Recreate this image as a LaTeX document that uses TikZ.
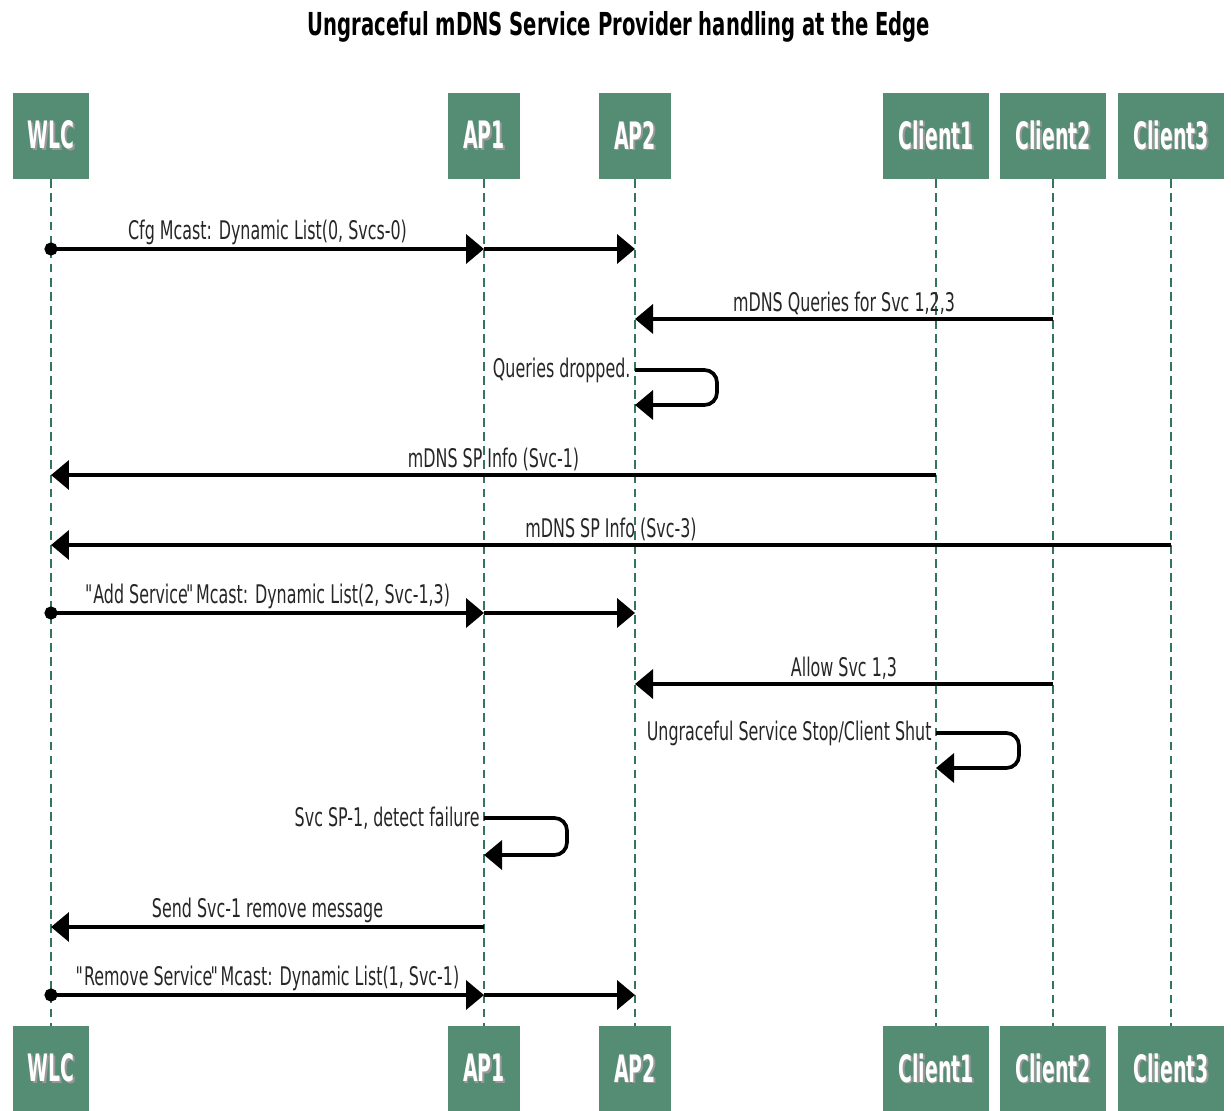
\documentclass[tikz,border=0pt]{standalone}
\usepackage{fontspec}
\setmainfont{DejaVu Sans}[FakeStretch=0.62]
\newfontfamily\actorfont{DejaVu Sans}[FakeStretch=0.5]
\usetikzlibrary{arrows.meta,positioning}

\definecolor{boxgreen}{RGB}{84,140,116}
\definecolor{lifegreen}{RGB}{50,118,98}

% white participant name with a small dark shadow
\newcommand{\shadowed}[1]{\makebox[0pt][l]{\hspace{1pt}\raisebox{-1pt}{\color{black!40}#1}}#1}
% straight quotes, set tight
\newcommand{\qq}[1]{\textquotedbl\kern-2pt#1\kern-1pt\textquotedbl\kern-1pt}

\tikzset{
  actor/.style={rectangle, fill=boxgreen, text=white,
    font=\actorfont\bfseries\fontsize{21.5}{24}\selectfont,
    minimum height=1.72cm, inner xsep=0.3cm},
  lifeline/.style={lifegreen, line width=1.1pt, dash pattern=on 5pt off 3pt},
  msg/.style={line width=2.1pt, -{Triangle[length=0.36cm,width=0.58cm]}},
  msgdot/.style={msg, {Circle[length=0.26cm,sep=-0.13cm]}-{Triangle[length=0.36cm,width=0.58cm]}},
  selfmsg/.style={msg, rounded corners=0.25cm},
  lbl/.style={font=\fontsize{14.6}{16}\selectfont, text=black!85, inner sep=1.5pt},
}

\begin{document}
\begin{tikzpicture}[x=0.02cm, y=-0.02cm]
  \useasboundingbox (0,0) rectangle (1231,1111);

  \node[font=\bfseries\fontsize{18}{20}\selectfont] (title) at (619,27)
    {Ungraceful mDNS Service Provider handling at the Edge};

  % participants
  \node[actor] (wlc) at (51,136) {\shadowed{WLC}};
  \node[actor] (ap1) at (484,136) {\shadowed{AP1}};
  \node[actor] (ap2) at (635,136) {\shadowed{AP2}};
  \node[actor] (c1) at (936,136) {\shadowed{Client1}};
  \node[actor] (c2) at (1053,136) {\shadowed{Client2}};
  \node[actor] (c3) at (1171,136) {\shadowed{Client3}};

  \node[actor] (wlcB) at (51,1069) {\shadowed{WLC}};
  \node[actor] (ap1B) at (484,1069) {\shadowed{AP1}};
  \node[actor] (ap2B) at (635,1069) {\shadowed{AP2}};
  \node[actor] (c1B) at (936,1069) {\shadowed{Client1}};
  \node[actor] (c2B) at (1053,1069) {\shadowed{Client2}};
  \node[actor] (c3B) at (1171,1069) {\shadowed{Client3}};

  \foreach \a in {wlc,ap1,ap2,c1,c2,c3}
    \draw[lifeline] (\a.south) -- (\a B.north);

  % message rows
  \foreach \n/\y in {1/249,2/319,3/370,4/475,5/545,6/613,7/684,8/733,9/818,10/927,11/995}
    \coordinate (r\n) at (0,\y);

  \draw[msgdot] (wlc |- r1) -- node[lbl, above] {Cfg Mcast: Dynamic List(0, Svcs-0)} (ap1 |- r1);
  \draw[msg] (ap1 |- r1) -- (ap2 |- r1);

  \draw[msg] (c2 |- r2) -- node[lbl, above] {mDNS Queries for Svc 1,2,3} (ap2 |- r2);

  \draw[selfmsg] (ap2 |- r3) node[lbl, left] {Queries dropped.}
    -- ++(82,0) -- ++(0,35) -- ++(-82,0);

  \draw[msg] (c1 |- r4) -- node[lbl, above] {mDNS SP Info (Svc-1)} (wlc |- r4);
  \draw[msg] (c3 |- r5) -- node[lbl, above] {mDNS SP Info (Svc-3)} (wlc |- r5);

  \draw[msgdot] (wlc |- r6) -- node[lbl, above] {\qq{Add Service} Mcast: Dynamic List(2, Svc-1,3)} (ap1 |- r6);
  \draw[msg] (ap1 |- r6) -- (ap2 |- r6);

  \draw[msg] (c2 |- r7) -- node[lbl, above] {Allow Svc 1,3} (ap2 |- r7);

  \draw[selfmsg] (c1 |- r8) node[lbl, left] {Ungraceful Service Stop/Client Shut}
    -- ++(83,0) -- ++(0,35) -- ++(-83,0);

  \draw[selfmsg] (ap1 |- r9) node[lbl, left] {Svc SP-1, detect failure}
    -- ++(83,0) -- ++(0,37) -- ++(-83,0);

  \draw[msg] (ap1 |- r10) -- node[lbl, above] {Send Svc-1 remove message} (wlc |- r10);

  \draw[msgdot] (wlc |- r11) -- node[lbl, above] {\qq{Remove Service} Mcast: Dynamic List(1, Svc-1)} (ap1 |- r11);
  \draw[msg] (ap1 |- r11) -- (ap2 |- r11);
\end{tikzpicture}
\end{document}
